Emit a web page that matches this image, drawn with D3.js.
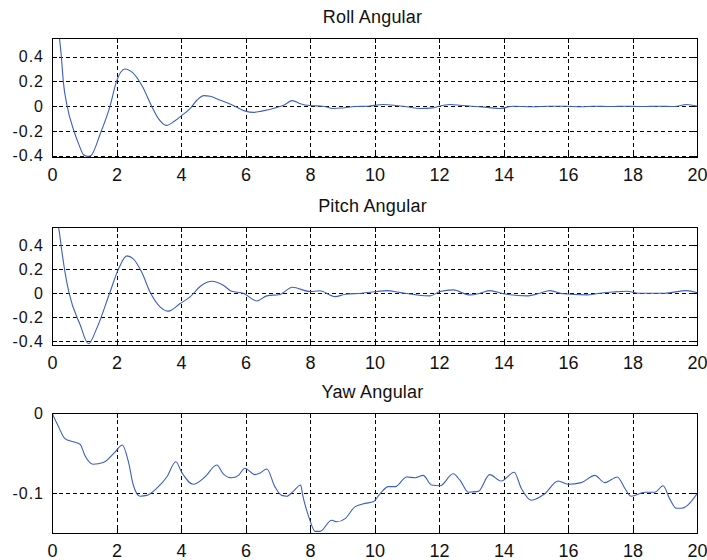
<!DOCTYPE html>
<html>
<head>
<meta charset="utf-8">
<script src="https://cdn.jsdelivr.net/npm/d3@7/dist/d3.min.js"></script>
<style>
    body { margin: 0; background: #fff; }
    text { font-family: "Liberation Sans", Arial, sans-serif; fill: #111; }
</style>
</head>
<body>
<svg id="chart" width="707" height="560"></svg>
<script>

// ---------------------------
// DATA
// ---------------------------

const timeTicks = [0, 2, 4, 6, 8, 10, 12, 14, 16, 18, 20];

const titles = ["Roll Angular", "Pitch Angular", "Yaw Angular"];

const rollTime = [0, 0.1, 0.2, 0.29, 0.35, 0.47, 0.68, 0.85, 0.97, 1.1, 1.2, 1.5, 1.8, 2.0, 2.26, 2.5, 2.8, 3.09, 3.3, 3.55,
    3.8, 4.0, 4.28, 4.5, 4.71, 4.9, 5.2, 5.67, 6.0, 6.24, 6.5, 6.97, 7.2, 7.45, 7.7, 8.0, 8.4, 8.72, 9.0, 9.4,
    9.8, 10.27, 10.6, 11.0, 11.41, 11.8, 12.0, 12.34, 12.65, 13.0, 13.5, 13.89, 14.3, 14.9, 15.4, 15.95, 16.37, 16.8, 17.3, 17.8,
    18.3, 18.8, 19.3, 19.68, 20];
const rollValues = [0.58, 0.66, 0.6, 0.4, 0.2, 0, -0.2, -0.32, -0.39, -0.405, -0.4, -0.22, 0, 0.2, 0.3, 0.27, 0.16, 0, -0.1, -0.155,
    -0.12, -0.08, -0.02, 0.05, 0.085, 0.08, 0.05, 0, -0.04, -0.05, -0.04, -0.01, 0.01, 0.045, 0.02, 0.005, 0, -0.019, -0.015, -0.003,
    0, 0.013, 0.008, -0.005, -0.019, -0.014, 0, 0.013, 0.008, 0, -0.01, -0.019, 0, -0.005, 0, 0, -0.005, 0, -0.003, 0,
    -0.003, 0, -0.003, 0.013, 0];

const pitchTime = [0, 0.1, 0.2, 0.3, 0.4, 0.53, 0.87, 1.13, 1.39, 1.8, 2.06, 2.32, 2.52, 2.78, 3.04, 3.35, 3.61, 3.97, 4.28, 4.64,
    4.95, 5.31, 5.57, 5.93, 6.35, 6.66, 7.07, 7.45, 8.0, 8.3, 8.78, 9.1, 9.6, 10.07, 10.38, 10.8, 11.3, 11.72, 12.03, 12.44,
    12.96, 13.27, 13.58, 14.0, 14.72, 15.13, 15.44, 15.85, 16.58, 16.99, 17.4, 17.82, 18.2, 18.6, 19.0, 19.68, 20];
const pitchValues = [0.53, 0.6, 0.55, 0.36, 0.18, 0, -0.26, -0.42, -0.29, 0.01, 0.2, 0.31, 0.286, 0.176, 0.01, -0.113, -0.149, -0.086, -0.03, 0.066,
    0.099, 0.066, 0.016, 0, -0.064, -0.022, -0.01, 0.05, 0.014, 0.02, -0.028, -0.008, 0, 0.014, 0.022, 0.005, -0.014, -0.022, 0.014, 0.028,
    -0.014, 0, 0.022, -0.005, -0.022, 0, 0.022, -0.005, -0.014, 0, 0.01, 0.016, 0, 0, 0, 0.022, 0.005];

const yawTime = [0, 0.2, 0.4, 0.66, 0.87, 1.02, 1.28, 1.59, 1.95, 2.18, 2.37, 2.52, 2.73, 2.94, 3.25, 3.56, 3.84, 4.02, 4.38, 4.74,
    5.11, 5.31, 5.57, 5.78, 5.98, 6.29, 6.45, 6.66, 6.91, 7.12, 7.28, 7.48, 7.71, 7.77, 7.98, 8.16, 8.31, 8.67, 8.83, 9.09,
    9.4, 9.71, 9.96, 10.17, 10.43, 10.64, 11.0, 11.26, 11.51, 11.77, 12.03, 12.44, 12.65, 12.91, 13.22, 13.57, 13.93, 14.33, 14.55, 14.86,
    15.28, 15.69, 16.0, 16.41, 16.83, 17.14, 17.53, 17.76, 17.96, 18.38, 18.69, 18.95, 19.15, 19.36, 19.52, 20];
const yawValues = [0, -0.017, -0.032, -0.036, -0.039, -0.053, -0.064, -0.062, -0.049, -0.040, -0.061, -0.090, -0.104, -0.103, -0.094, -0.080, -0.061, -0.074, -0.089, -0.080,
    -0.065, -0.076, -0.081, -0.078, -0.069, -0.077, -0.075, -0.070, -0.092, -0.103, -0.104, -0.098, -0.090, -0.102, -0.132, -0.148, -0.148, -0.134, -0.136, -0.132,
    -0.117, -0.113, -0.111, -0.101, -0.092, -0.092, -0.080, -0.081, -0.078, -0.090, -0.091, -0.076, -0.084, -0.099, -0.098, -0.077, -0.085, -0.074, -0.094, -0.109,
    -0.101, -0.085, -0.089, -0.087, -0.078, -0.087, -0.080, -0.094, -0.104, -0.099, -0.099, -0.091, -0.107, -0.119, -0.119, -0.101];

const rollTicks = [-0.4, -0.2, 0, 0.2, 0.4];
const pitchTicks = [-0.4, -0.2, 0, 0.2, 0.4];
const yawTicks = [-0.1, 0];

const rollLimits = [-0.41, 0.55];
const pitchLimits = [-0.43, 0.55];
const yawLimits = [-0.15, 0];


// ---------------------------
// LAYOUT
// ---------------------------

const svg = d3.select("#chart");

const left = 52;
const right = 697;
const lineColor = "#3c5ec4";

const panels = [
    { title: titles[0], time: rollTime, values: rollValues, ticks: rollTicks, limits: rollLimits, top: 38, bottom: 157 },
    { title: titles[1], time: pitchTime, values: pitchValues, ticks: pitchTicks, limits: pitchLimits, top: 227, bottom: 345 },
    { title: titles[2], time: yawTime, values: yawValues, ticks: yawTicks, limits: yawLimits, top: 413, bottom: 533 },
];

const xScale = d3.scaleLinear()
    .domain([0, 20])
    .range([left, right]);


// ---------------------------
// DRAW ONE PANEL
// ---------------------------

const drawPanel = (p, i) => {

    const yScale = d3.scaleLinear()
        .domain(p.limits)
        .range([p.bottom, p.top]);

    const g = svg.append("g").attr("class", `panel panel-${i}`);

    // clip the line to the axes box
    svg.append("clipPath")
        .attr("id", `clip-${i}`)
        .append("rect")
        .attr("x", left)
        .attr("y", p.top)
        .attr("width", right - left)
        .attr("height", p.bottom - p.top);

    // dashed grid
    g.append("g")
        .selectAll("line")
        .data(timeTicks)
        .join("line")
        .attr("x1", d => Math.round(xScale(d)) + 0.5)
        .attr("x2", d => Math.round(xScale(d)) + 0.5)
        .attr("y1", p.top)
        .attr("y2", p.bottom)
        .attr("stroke", "#000")
        .attr("stroke-dasharray", "4,3");

    g.append("g")
        .selectAll("line")
        .data(p.ticks)
        .join("line")
        .attr("x1", left)
        .attr("x2", right)
        .attr("y1", d => Math.round(yScale(d)) + 0.5)
        .attr("y2", d => Math.round(yScale(d)) + 0.5)
        .attr("stroke", "#000")
        .attr("stroke-dasharray", "4,3");

    // inward tick marks on all four sides
    const tickLen = 5;
    const ticksG = g.append("g").attr("stroke", "#000");

    timeTicks.forEach(d => {
        const x = Math.round(xScale(d)) + 0.5;
        ticksG.append("line").attr("x1", x).attr("x2", x).attr("y1", p.bottom).attr("y2", p.bottom - tickLen);
        ticksG.append("line").attr("x1", x).attr("x2", x).attr("y1", p.top).attr("y2", p.top + tickLen);
    });

    p.ticks.forEach(d => {
        const y = Math.round(yScale(d)) + 0.5;
        ticksG.append("line").attr("x1", left).attr("x2", left + tickLen).attr("y1", y).attr("y2", y);
        ticksG.append("line").attr("x1", right).attr("x2", right - tickLen).attr("y1", y).attr("y2", y);
    });

    // data line
    const line = d3.line()
        .x(d => xScale(d[0]))
        .y(d => yScale(d[1]))
        .curve(d3.curveMonotoneX);

    g.append("path")
        .datum(d3.zip(p.time, p.values))
        .attr("clip-path", `url(#clip-${i})`)
        .attr("fill", "none")
        .attr("stroke", lineColor)
        .attr("stroke-width", 1.1)
        .attr("d", line);

    // box
    g.append("rect")
        .attr("x", left + 0.5)
        .attr("y", p.top + 0.5)
        .attr("width", right - left)
        .attr("height", p.bottom - p.top)
        .attr("fill", "none")
        .attr("stroke", "#000");

    // tick labels through d3 axes (no tick lines)
    const xAxis = d3.axisBottom(xScale)
        .tickValues(timeTicks)
        .tickSize(0)
        .tickPadding(11)
        .tickFormat(d => String(d));

    g.append("g")
        .attr("transform", `translate(0, ${p.bottom})`)
        .call(xAxis)
        .call(a => a.select(".domain").remove())
        .selectAll("text")
        .attr("font-size", 18)
        .attr("font-family", null);

    const yAxis = d3.axisLeft(yScale)
        .tickValues(p.ticks)
        .tickSize(0)
        .tickPadding(8)
        .tickFormat(d => String(d));

    g.append("g")
        .attr("transform", `translate(${left}, 0)`)
        .call(yAxis)
        .call(a => a.select(".domain").remove())
        .selectAll("text")
        .attr("font-size", 16)
        .attr("letter-spacing", 1)
        .attr("font-family", null);

    // title
    g.append("text")
        .attr("x", (left + right) / 2 - 2)
        .attr("y", p.top - 15)
        .attr("text-anchor", "middle")
        .attr("font-size", 18)
        .attr("letter-spacing", 0.2)
        .text(p.title);
};

panels.forEach(drawPanel);

</script>
</body>
</html>
